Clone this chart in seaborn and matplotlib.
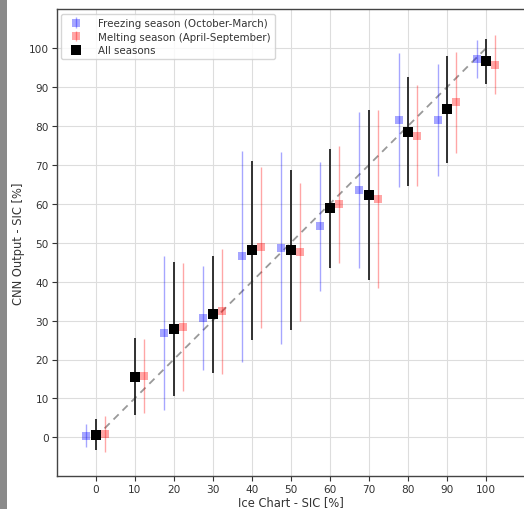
import numpy as np
import pandas as pd
import matplotlib
matplotlib.use("Agg")
import matplotlib.pyplot as plt
from matplotlib.patches import Rectangle
import seaborn as sns

# ---- data ----
sic_classes = [0, 10, 20, 30, 40, 50, 60, 70, 80, 90, 100]

all_mean = [0.7, 15.6, 27.8, 31.6, 48.1, 48.1, 58.9, 62.3, 78.5, 84.3, 96.7]
all_err = [4.0, 9.9, 17.2, 15.0, 23.0, 20.6, 15.3, 21.8, 14.0, 13.7, 5.8]

freeze_mean = [0.4, np.nan, 26.7, 30.7, 46.5, 48.7, 54.2, 63.6, 81.6, 81.6, 97.2]
freeze_err = [2.9, np.nan, 19.8, 13.3, 27.1, 24.6, 16.5, 20.0, 17.3, 14.4, 4.9]

melt_mean = [0.9, 15.7, 28.3, 32.4, 48.9, 47.7, 59.9, 61.3, 77.5, 86.1, 95.8]
melt_err = [4.7, 9.5, 16.4, 16.1, 20.7, 17.7, 15.0, 22.8, 13.0, 13.0, 7.5]

tick_values = [0, 10, 20, 30, 40, 50, 60, 70, 80, 90, 100]

labels = ["Freezing season (October-March)",
          "Melting season (April-September)",
          "All seasons"]

# ---- style ----
sns.set_theme(style="whitegrid")
plt.rcParams["font.family"] = ["DejaVu Sans"]
plt.rcParams.update({
    "axes.edgecolor": "#444444",
    "axes.linewidth": 1.0,
    "grid.color": "#dddddd",
    "grid.linewidth": 0.8,
    "xtick.bottom": True,
    "ytick.left": True,
    "xtick.major.size": 3.5,
    "ytick.major.size": 3.5,
    "xtick.color": "#333333",
    "ytick.color": "#333333",
    "text.color": "#333333",
    "axes.labelcolor": "#333333",
})

fig = plt.figure(figsize=(5.24, 5.10), dpi=100)
fig.patch.set_facecolor("white")
ax = fig.add_axes([56.6 / 524, (510 - 477.2) / 510, 468.4 / 524, 466.8 / 510])
ax.spines["right"].set_visible(False)

# left gray border of the screenshot
fig.patches.append(Rectangle((0, 0), 7 / 524, 1, transform=fig.transFigure,
                             facecolor="#8a8a8a", edgecolor="none", zorder=10))

x = np.array(sic_classes, dtype=float)
off = 2.4

# identity line
line_df = pd.DataFrame({"x": [0, 100], "y": [0, 100]})
sns.lineplot(data=line_df, x="x", y="y", ax=ax, color="#999999",
             linestyle=(0, (4, 3)), linewidth=1.3, zorder=1)

ax.errorbar(x - off, freeze_mean, yerr=freeze_err, fmt="s", color="blue",
            alpha=0.35, markersize=5.2, markeredgewidth=0, elinewidth=1.0,
            capsize=0, label=labels[0], zorder=2)
ax.errorbar(x + off, melt_mean, yerr=melt_err, fmt="s", color="red",
            alpha=0.35, markersize=5.2, markeredgewidth=0, elinewidth=1.0,
            capsize=0, label=labels[1], zorder=2)
ax.errorbar(x, all_mean, yerr=all_err, fmt="s", color="black",
            markersize=6.6, markeredgewidth=0, elinewidth=1.3, ecolor="#222222",
            capsize=0, label=labels[2], zorder=3)

ax.set_xlim(-10, 110)
ax.set_ylim(-10, 110)
ax.set_xticks(tick_values)
ax.set_yticks(tick_values)
ax.tick_params(labelsize=7.6, length=3.5, width=0.8, pad=2)
ax.set_xlabel("Ice Chart - SIC [%]", fontsize=8.3, labelpad=1)
ax.set_ylabel("CNN Output - SIC [%]", fontsize=8.3, labelpad=3)

leg = ax.legend(loc="upper left", fontsize=7.4, frameon=True,
                borderaxespad=0.45, handletextpad=1.2, labelspacing=0.35)
leg.get_frame().set_edgecolor("#cccccc")

fig.savefig("out.png", dpi=100)
